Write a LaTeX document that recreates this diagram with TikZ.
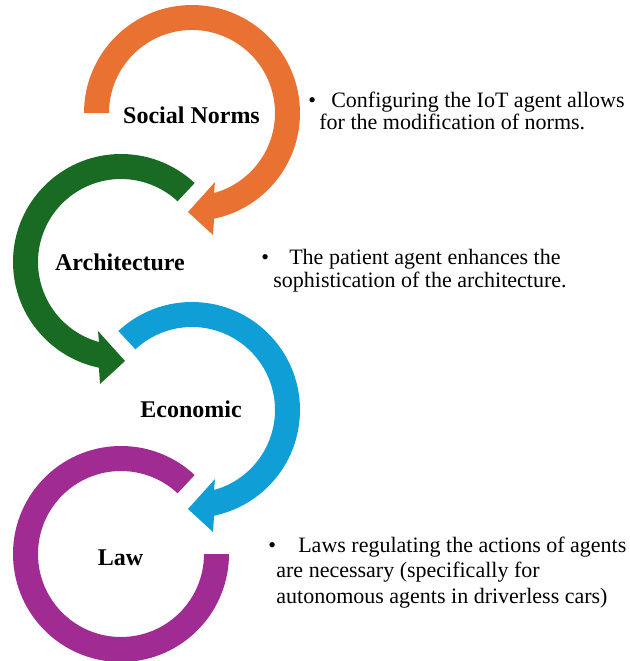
\documentclass[tikz,border=0pt]{standalone}
\usepackage{fontspec}
\setmainfont{Liberation Serif}
\usetikzlibrary{positioning}
\definecolor{normsorange}{HTML}{E97132}
\definecolor{archgreen}{HTML}{196B24}
\definecolor{econblue}{HTML}{0F9ED5}
\definecolor{lawpurple}{HTML}{A02B93}

\begin{document}
\begin{tikzpicture}[x = 0.5pt, y = 0.5pt,
		lbl/.style = {font = \fontsize{12}{14}\selectfont\bfseries, inner sep = 0pt, anchor = base},
		note/.style = {font = \fontsize{11}{11.25}\selectfont, inner sep = 0pt, anchor = base west, align = left}]
	\useasboundingbox (0, 0) rectangle (630, 661);
	\fill [normsorange, shift = {(192, 548)}] (180:108) arc [start angle = 180, end angle = -78.2, radius = 108] -- (21, -122) -- (-4, -99) -- (23, -69) -- (-74.6:83) arc [start angle = -74.6, end angle = 180, radius = 83] -- cycle;
	\fill [archgreen, shift = {(121, 399)}] (47:108) arc [start angle = 47, end angle = 258.2, radius = 108] -- (-21, -122) -- (4, -99) -- (-23, -69) -- (254.6:83) arc [start angle = 254.6, end angle = 47, radius = 83] -- cycle;
	\fill [econblue, shift = {(192, 251)}] (133:108) arc [start angle = 133, end angle = -78.2, radius = 108] -- (21, -122) -- (-4, -99) -- (23, -69) -- (-74.6:83) arc [start angle = -74.6, end angle = 133, radius = 83] -- cycle;
	\fill [lawpurple, shift = {(121, 107)}] (47:108) arc [start angle = 47, end angle = 360, radius = 108] -- (0:83) arc [start angle = 360, end angle = 47, radius = 83] -- cycle;
	\node [lbl] (norms) at (191.5, 538) {Social Norms};
	\node [lbl] (arch) at (120, 391) {Architecture};
	\node [lbl] (econ) at (191, 243) {Economic};
	\node [lbl] (law) at (120.5, 96) {Law};
	\node [note] (normsnote) at (308, 531) {\textbullet\hspace{7.6pt}Configuring the IoT agent allows\\\hspace*{5.5pt}for the modification of norms.};
	\node [note] (archnote) at (261, 374) {\textbullet\hspace{10.1pt}The patient agent enhances the\\\hspace*{6pt}sophistication of the architecture.};
	\node [note, font = \fontsize{11}{12.75}\selectfont] (lawnote) at (268, 58) {\textbullet\hspace{11.1pt}Laws regulating the actions of agents\\\hspace*{4pt}are necessary (specifically for\\\hspace*{4pt}autonomous agents in driverless cars)};
\end{tikzpicture}
\end{document}
